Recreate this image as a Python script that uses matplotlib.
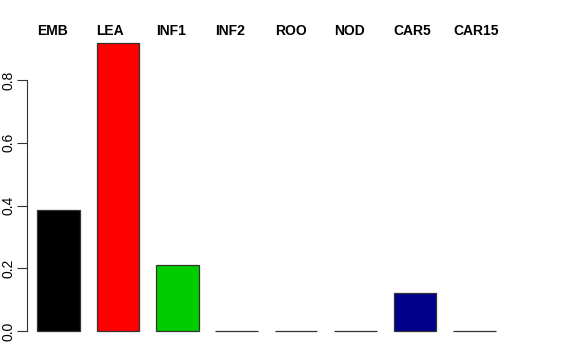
import numpy as np
import matplotlib.pyplot as plt

plt.rcParams['font.family'] = ['Liberation Sans', 'DejaVu Sans']

tissues = ['EMB', 'LEA', 'INF1', 'INF2', 'ROO', 'NOD', 'CAR5', 'CAR15']
values = [0.386, 0.918, 0.21, 0.0, 0.0, 0.0, 0.121, 0.0]
colors = ['#000000', '#FF0000', '#00CD00', '#0000FF', '#00FFFF', '#FF00FF', '#00008B', '#BEBEBE']

fig = plt.figure(figsize=(5.76, 3.6), dpi=100)
ax = fig.add_axes([27 / 576, 29 / 360, 533 / 576, 298 / 360])

x = np.arange(len(tissues))
width = 0.72
bars = ax.bar(x, values, width=width, color=colors, edgecolor='#333333', linewidth=0.9)
for b in bars:
    b.set_clip_on(False)

ax.set_xlim((27 - 58.5) / 59.4, (560 - 58.5) / 59.4)
ax.set_ylim(0, 298 / 313.75)

for i, name in enumerate(tissues):
    ax.text(x[i] - width / 2, 0.993, name, transform=ax.get_xaxis_transform(),
            ha='left', va='baseline', fontsize=10, fontweight='bold', clip_on=False)

for s in ['top', 'right', 'bottom']:
    ax.spines[s].set_visible(False)
ax.spines['left'].set_bounds(0, 0.8)
ax.spines['left'].set_color('#333333')
ax.set_xticks([])
ax.set_yticks([0, 0.2, 0.4, 0.6, 0.8])
ax.set_yticklabels(['0.0', '0.2', '0.4', '0.6', '0.8'], rotation=90, va='center', fontsize=10)
ax.tick_params(axis='y', length=7, color='#333333', pad=1.5)

fig.savefig('out.png', dpi=100)
